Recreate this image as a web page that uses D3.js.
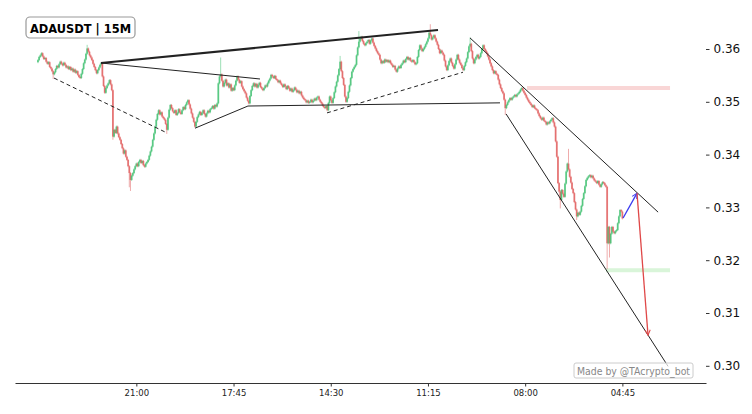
<!DOCTYPE html>
<html lang="en">
<head>
    <meta charset="UTF-8">
    <script src="https://d3js.org/d3.v7.min.js"></script>
    <title>ADAUSDT 15M</title>
    <style>
        body { margin: 0; background: #fff; }
        svg { font-family: "DejaVu Sans", sans-serif; }
    </style>
</head>
<body>
    <div id="container"></div>
</body>
<script>
    // 752x414 canvas
    var width = 752,
        height = 414;

    // closes, in units of 0.0001 USDT (one per 15m candle, 500 candles)
    const closeBp = [
        3579,3585,3588,3592,3586,3581,3583,3576,3572,3575,
        3566,3563,3558,3552,3556,3562,3568,3565,3571,3576,
        3572,3569,3574,3570,3565,3567,3562,3566,3560,3563,
        3557,3561,3555,3558,3551,3547,3545,3553,3562,3573,
        3580,3591,3601,3595,3588,3584,3579,3572,3566,3560,
        3554,3560,3565,3570,3573,3548,3530,3517,3526,3531,
        3535,3541,3533,3522,3434,3447,3441,3453,3440,3433,
        3428,3420,3412,3402,3408,3396,3390,3378,3365,3352,
        3360,3365,3372,3378,3383,3378,3386,3390,3384,3388,
        3380,3377,3383,3386,3390,3398,3406,3415,3428,3440,
        3453,3466,3477,3484,3476,3480,3472,3469,3466,3458,
        3447,3470,3485,3494,3488,3482,3479,3484,3475,3479,
        3486,3480,3477,3484,3490,3486,3494,3499,3503,3495,
        3487,3478,3470,3462,3453,3462,3471,3476,3481,3475,
        3479,3484,3477,3472,3478,3483,3480,3486,3488,3492,
        3487,3494,3491,3497,3535,3548,3552,3540,3529,3536,
        3542,3531,3535,3527,3533,3521,3526,3522,3531,3540,
        3548,3542,3536,3539,3529,3524,3520,3516,3508,3502,
        3497,3511,3522,3530,3535,3529,3534,3527,3532,3536,
        3528,3525,3522,3526,3531,3529,3535,3540,3544,3551,
        3548,3545,3549,3543,3541,3537,3540,3535,3532,3528,
        3533,3529,3524,3530,3526,3521,3525,3519,3522,3527,
        3523,3518,3521,3516,3519,3512,3508,3505,3503,3499,
        3502,3498,3500,3504,3499,3502,3506,3503,3508,3510,
        3504,3500,3497,3493,3490,3488,3492,3484,3498,3510,
        3503,3498,3507,3518,3529,3538,3550,3562,3576,3558,
        3545,3532,3510,3500,3507,3519,3531,3545,3557,3562,
        3566,3570,3588,3603,3614,3619,3623,3615,3610,3607,
        3611,3614,3617,3610,3616,3620,3612,3606,3601,3596,
        3592,3589,3580,3573,3577,3574,3580,3576,3579,3575,
        3578,3573,3570,3566,3568,3561,3557,3563,3567,3564,
        3570,3573,3578,3575,3581,3585,3580,3583,3578,3576,
        3579,3575,3571,3573,3585,3598,3607,3601,3596,3600,
        3604,3609,3614,3620,3631,3626,3618,3622,3626,3620,
        3614,3608,3600,3592,3597,3593,3589,3578,3567,3560,
        3569,3577,3582,3574,3568,3563,3571,3580,3589,3580,
        3574,3570,3564,3560,3568,3575,3582,3594,3605,3610,
        3596,3582,3573,3580,3585,3589,3582,3585,3592,3600,
        3607,3600,3596,3592,3586,3580,3573,3567,3560,3554,
        3558,3553,3551,3542,3533,3526,3520,3516,3504,3488,
        3494,3499,3503,3507,3504,3508,3510,3513,3510,3514,
        3516,3519,3523,3526,3521,3517,3513,3508,3504,3500,
        3497,3494,3490,3493,3488,3486,3484,3478,3473,3469,
        3466,3470,3464,3462,3457,3461,3459,3463,3466,3469,
        3461,3453,3425,3396,3346,3330,3314,3333,3326,3320,
        3345,3368,3383,3372,3358,3347,3335,3327,3310,3296,
        3283,3290,3286,3292,3303,3316,3327,3340,3352,3356,
        3359,3361,3357,3360,3355,3351,3349,3346,3350,3343,
        3339,3344,3348,3346,3342,3339,3232,3263,3232,3250,
        3263,3254,3251,3255,3257,3270,3283,3295,3292,3279
    ];
    const firstOpenBp = 3575;

    // notable wicks: [candle, high, low] (null = body edge)
    const wicks = [
        [13, null, 3545], [42, 3606, null], [64, null, 3430], [78, null, 3340],
        [79, null, 3333], [110, null, 3441], [156, 3582, null], [258, 3585, null],
        [274, 3632, null], [335, 3645, null], [369, 3620, null], [399, null, 3477],
        [446, null, 3300], [453, 3409, null], [460, null, 3278], [486, null, 3185],
        [488, null, 3207]
    ];

    // x tick positions (candle index) and labels
    const tickIdx = [84, 167, 250, 333, 416, 499];
    const tickLabels = ["21:00", "17:45", "14:30", "11:15", "08:00", "04:45"];
    const priceTicks = [0.30, 0.31, 0.32, 0.33, 0.34, 0.35, 0.36];

    // trendlines: [i1, p1, i2, p2]
    const solidBold = [[53.8, 0.35735, 341.6, 0.3636]];
    const solidThin = [
        [53.8, 0.35735, 189.6, 0.35432],
        [134.1, 0.3450, 179.3, 0.3492],
        [179.3, 0.3492, 394.5, 0.3498],
        [368.9, 0.3621, 529.5, 0.3291],
        [399.7, 0.3477, 538.0, 0.2999]
    ];
    const dashed = [
        [13.7, 0.3545, 110.2, 0.3441],
        [246.8, 0.3479, 362.9, 0.3556]
    ];
    const zones = [
        {i1: 417.6, i2: 539.7, p: 0.3526, color: "#f9d6d6"},
        {i1: 485.0, i2: 539.7, p: 0.3181, color: "#d9f5d9"}
    ];
    const arrows = [
        {i1: 499.6, p1: 0.3280, i2: 511.5, p2: 0.3327, color: "#3b3bf0"},
        {i1: 511.5, p1: 0.3327, i2: 520.9, p2: 0.3058, color: "#e04848"}
    ];

    const candles = closeBp.map((c, i) => {
        const o = i === 0 ? firstOpenBp : closeBp[i - 1];
        return {i: i, o: o / 1e4, c: c / 1e4, h: Math.max(o, c) / 1e4, l: Math.min(o, c) / 1e4};
    });
    wicks.forEach(w => {
        if (w[1] !== null) candles[w[0]].h = w[1] / 1e4;
        if (w[2] !== null) candles[w[0]].l = w[2] / 1e4;
    });

    const xs = d3.scaleLinear().domain([-19.6, 570.4]).range([15, 706]);
    const ys = d3.scaleLinear().domain([0.30, 0.36]).range([365.8, 49]);

    const svg = d3.select("#container").append("svg")
        .attr("width", width).attr("height", height);

    // zones
    svg.append("g").selectAll("line").data(zones).join("line")
        .attr("x1", d => xs(d.i1)).attr("x2", d => xs(d.i2))
        .attr("y1", d => ys(d.p)).attr("y2", d => ys(d.p))
        .attr("stroke", d => d.color).attr("stroke-width", 4);

    // candles
    const up = "#3cbf6e", down = "#e05a5a";
    const cg = svg.append("g");
    cg.selectAll("line").data(candles).join("line")
        .attr("x1", d => xs(d.i)).attr("x2", d => xs(d.i))
        .attr("y1", d => ys(d.h) - 1).attr("y2", d => ys(d.l) + 1)
        .attr("stroke", d => d.c >= d.o ? up : down)
        .attr("stroke-opacity", 0.5).attr("stroke-width", 1);
    cg.selectAll("rect").data(candles).join("rect")
        .attr("x", d => xs(d.i) - 0.9).attr("width", 1.8)
        .attr("y", d => ys(Math.max(d.o, d.c)))
        .attr("height", d => Math.max(1, Math.abs(ys(d.o) - ys(d.c))))
        .attr("fill", d => d.c >= d.o ? up : down)
        .attr("fill-opacity", 0.75);

    // trendlines
    const seg = (g, data, w, dash) => g.selectAll(null).data(data).join("line")
        .attr("x1", d => xs(d[0])).attr("y1", d => ys(d[1]))
        .attr("x2", d => xs(d[2])).attr("y2", d => ys(d[3]))
        .attr("stroke", "#222").attr("stroke-width", w)
        .attr("stroke-dasharray", dash);
    const lg = svg.append("g");
    seg(lg, solidThin, 1, null);
    seg(lg, dashed, 1, "4,3");
    seg(lg, solidBold, 2.2, null);

    // arrows
    const defs = svg.append("defs");
    arrows.forEach((a, k) => {
        defs.append("marker").attr("id", "ah" + k)
            .attr("viewBox", "0 0 10 10").attr("refX", 9).attr("refY", 5)
            .attr("markerWidth", 5).attr("markerHeight", 5).attr("orient", "auto")
            .append("path").attr("d", "M1,1 L9,5 L1,9").attr("fill", "none")
            .attr("stroke", a.color).attr("stroke-width", 1.6);
    });
    svg.append("g").selectAll("line").data(arrows).join("line")
        .attr("x1", d => xs(d.i1)).attr("y1", d => ys(d.p1))
        .attr("x2", d => xs(d.i2)).attr("y2", d => ys(d.p2))
        .attr("stroke", d => d.color).attr("stroke-width", 1.3)
        .attr("marker-end", (d, k) => `url(#ah${k})`);

    // axes
    const yAxis = svg.append("g").attr("transform", "translate(706,0)")
        .call(d3.axisRight(ys).tickValues(priceTicks).tickSize(3.5).tickPadding(4)
            .tickFormat(d3.format(".2f")));
    yAxis.select(".domain").remove();
    yAxis.selectAll("text").attr("font-size", 12).attr("fill", "#111").attr("font-family", "DejaVu Sans");
    yAxis.selectAll("line").attr("stroke", "#333");

    const xAxis = svg.append("g").attr("transform", "translate(0,383)")
        .call(d3.axisBottom(xs).tickValues(tickIdx).tickSize(3.5).tickSizeOuter(0)
            .tickFormat((d, k) => tickLabels[k]));
    xAxis.select(".domain").attr("stroke", "#333").attr("stroke-width", 1.2);
    xAxis.selectAll("line").attr("stroke", "#333");
    xAxis.selectAll("text").attr("font-size", 8.5).attr("fill", "#222").attr("font-family", "DejaVu Sans");

    // title box
    svg.append("rect").attr("x", 26).attr("y", 17).attr("width", 109).attr("height", 21)
        .attr("rx", 4).attr("fill", "#fff").attr("stroke", "#999").attr("stroke-width", 1.2);
    svg.append("text").attr("x", 30).attr("y", 32.5).attr("font-size", 12.5)
        .attr("font-weight", "bold").attr("fill", "#000")
        .attr("textLength", 101).attr("lengthAdjust", "spacingAndGlyphs")
        .text("ADAUSDT | 15M");

    // watermark
    svg.append("rect").attr("x", 574).attr("y", 363).attr("width", 119).attr("height", 15)
        .attr("rx", 2).attr("fill", "#fff").attr("fill-opacity", 0.7)
        .attr("stroke", "#ccc");
    svg.append("text").attr("x", 577).attr("y", 374.5).attr("font-size", 10.5)
        .attr("fill", "#888").attr("textLength", 113).attr("lengthAdjust", "spacingAndGlyphs")
        .text("Made by @TAcrypto_bot");
</script>
</html>
